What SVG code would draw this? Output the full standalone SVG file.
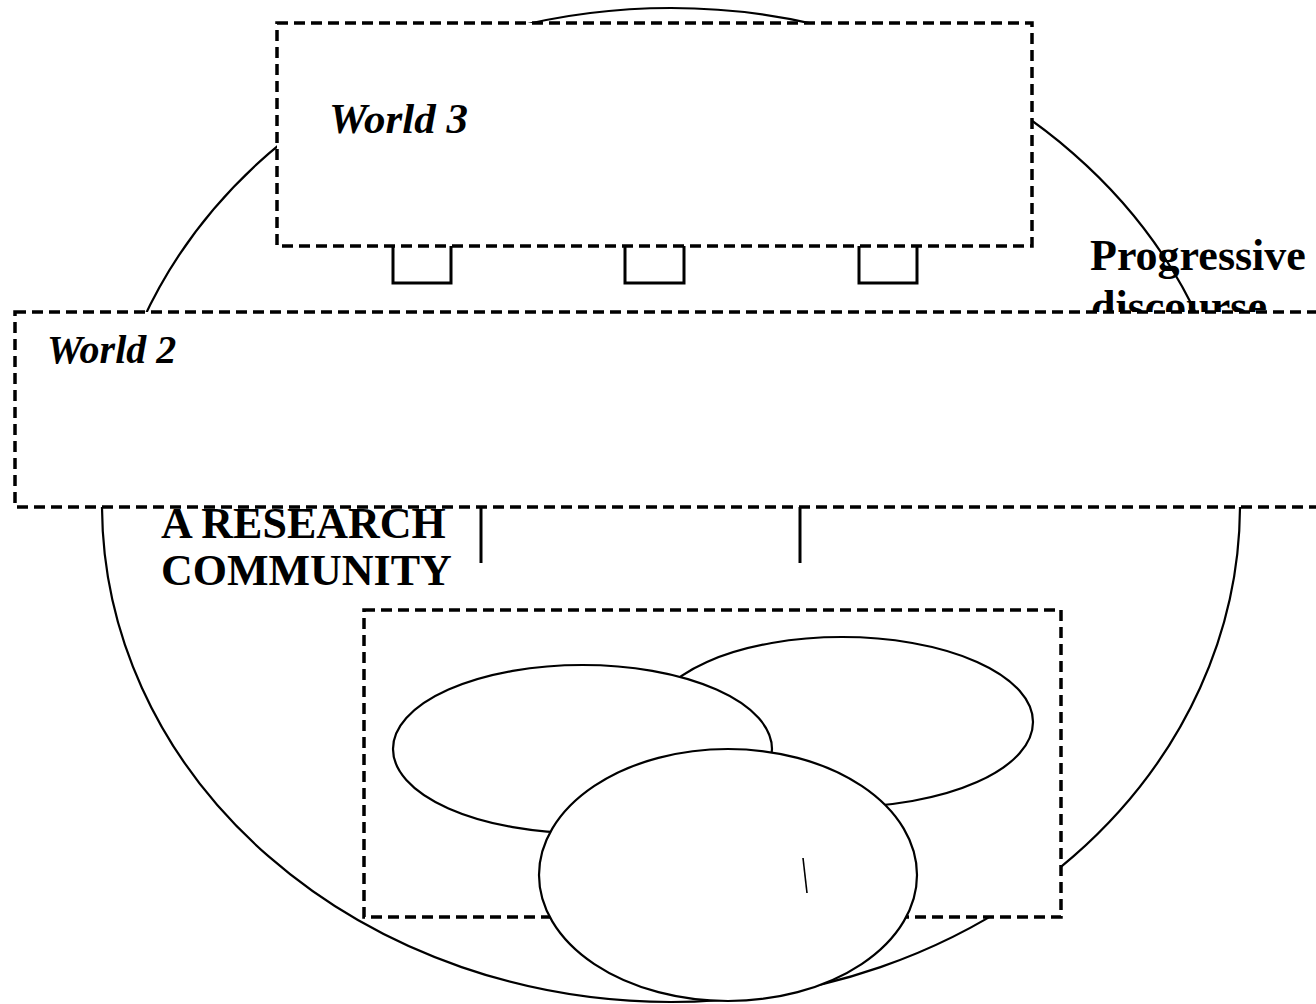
<svg xmlns="http://www.w3.org/2000/svg" width="1316" height="1004" viewBox="0 0 1316 1004">
  <style>
    .dash { fill: #fff; stroke: #000; stroke-width: 3.5; stroke-dasharray: 11 6; }
    .solid { fill: #fff; stroke: #000; stroke-width: 2.2; }
    .line { fill: none; stroke: #000; stroke-width: 3; }
    .bi { font-family: "Liberation Serif", "Times New Roman", serif; font-weight: bold; font-style: italic; fill: #000; }
    .b { font-family: "Liberation Serif", "Times New Roman", serif; font-weight: bold; fill: #000; font-size: 44px; }
  </style>
  <rect width="1316" height="1004" fill="#fff"/>
  <g id="community">
    <ellipse cx="671" cy="505" rx="569" ry="497" class="solid"/>
  </g>
  <g id="connectors">
    <path class="line" d="M393 200 V283 H451 V200"/>
    <path class="line" d="M625 200 V283 H684 V200"/>
    <path class="line" d="M859 200 V283 H917 V200"/>
    <line class="line" x1="481" y1="500" x2="481" y2="563"/>
    <line class="line" x1="800" y1="500" x2="800" y2="563"/>
  </g>
  <g id="progressive-discourse">
    <text class="b" x="1090" y="270">Progressive</text>
    <text class="b" x="1091" y="321">discourse</text>
  </g>
  <g id="research-community-label">
    <text class="b" x="161" y="538">A RESEARCH</text>
    <text class="b" x="161" y="585">COMMUNITY</text>
  </g>
  <g id="world3">
    <rect x="277" y="23" width="755" height="223" class="dash"/>
    <text class="bi" x="329" y="133" font-size="43">World 3</text>
  </g>
  <g id="world2">
    <rect x="15" y="312" width="1320" height="195" class="dash"/>
    <text class="bi" x="47" y="363" font-size="40">World 2</text>
  </g>
  <g id="individuals">
    <rect x="364" y="610" width="697" height="307" class="dash"/>
    <ellipse cx="842" cy="722" rx="191" ry="85" class="solid"/>
    <ellipse cx="582.5" cy="749" rx="189.5" ry="84" class="solid"/>
    <ellipse cx="728" cy="875" rx="189" ry="126" class="solid"/>
    <line x1="803" y1="858" x2="807" y2="893" stroke="#000" stroke-width="1.6"/>
  </g>
</svg>
